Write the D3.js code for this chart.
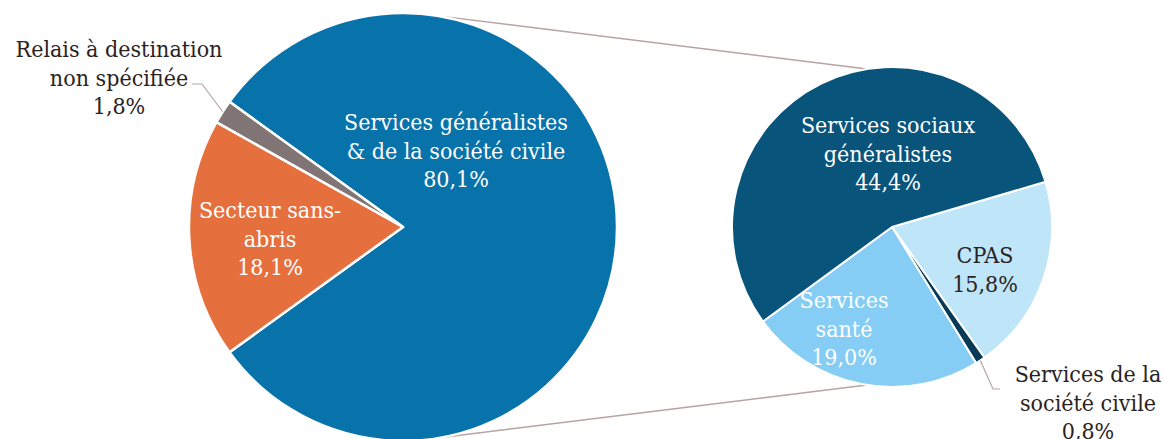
<!DOCTYPE html>
<html lang="fr">
<head>
<meta charset="utf-8">
<script src="https://cdn.jsdelivr.net/npm/d3@7"></script>
<style>
  html, body { margin: 0; padding: 0; background: #fff; }
  svg { display: block; }
</style>
</head>
<body>
<svg id="chart" width="1164" height="439"></svg>
<script>
// Répartition des relais (pie of pie)
const mainNames  = ["Services généralistes & de la société civile", "Secteur sans-abris", "Relais à destination non spécifiée"];
const mainLines  = [["Services généralistes", "& de la société civile"], ["Secteur sans-", "abris"], ["Relais à destination", "non spécifiée"]];
const mainValues = [80.1, 18.1, 1.8];
const mainColors = ["#0872AA", "#E5703E", "#807574"];

const subNames  = ["CPAS", "Services de la société civile", "Services santé", "Services sociaux généralistes"];
const subLines  = [["CPAS"], ["Services de la", "société civile"], ["Services", "santé"], ["Services sociaux", "généralistes"]];
const subValues = [15.8, 0.8, 19.0, 44.4];
const subColors = ["#BFE5F8", "#063A57", "#85CDF4", "#08547B"];

const fmt = v => d3.format(".1f")(v).replace(".", ",") + "%";
const FONT = "'DejaVu Serif Condensed', 'DejaVu Serif', serif";

const svg = d3.select("#chart");
const deg = Math.PI / 180;

// ---- layout ----
const left  = { cx: 403, cy: 227, r: 214 };
const right = { cx: 892, cy: 227, r: 160 };
const lineH = 28.5;

// label anchors (centre x, first baseline y) relative to each pie centre
const mainLabelPos = [
  { dx: 53,   dy: -97, fill: "#fff" },
  { dx: -133, dy: -9,  fill: "#fff" },
  { dx: -284, dy: -170, fill: "#2B2321" }
];
const subLabelPos = [
  { dx: 93,  dy: 36,  fill: "#2B2321" },
  { dx: 196, dy: 155, fill: "#2B2321" },
  { dx: -48, dy: 81,  fill: "#fff" },
  { dx: -4,  dy: -94, fill: "#fff" }
];

// ---- main pie: the expanded slice faces the secondary pie ----
const mainSpan = mainValues[0] / d3.sum(mainValues) * 2 * Math.PI;
const mainPie = d3.pie().sort(null)
  .startAngle(Math.PI / 2 - mainSpan / 2)
  .endAngle(Math.PI / 2 - mainSpan / 2 + 2 * Math.PI);
const mainArcs = mainPie(mainValues);
const mainArc = d3.arc().innerRadius(0).outerRadius(left.r);

// ---- secondary pie ----
const subStart = 73.6 * deg;
const subPie = d3.pie().sort(null).startAngle(subStart).endAngle(subStart + 2 * Math.PI);
const subArcs = subPie(subValues);
const subArc = d3.arc().innerRadius(0).outerRadius(right.r);

const polar = (c, a, r) => [c.cx + r * Math.sin(a), c.cy - r * Math.cos(a)];

// connector lines between the two pies
const connColor = "#B8A3A3";
const connectors = [
  [polar(left, 9.4 * deg, left.r),   polar(right, -9 * deg, right.r)],
  [polar(left, 169.5 * deg, left.r), polar(right, 189 * deg, right.r)]
];
svg.append("g").selectAll("line").data(connectors).join("line")
  .attr("x1", d => d[0][0]).attr("y1", d => d[0][1])
  .attr("x2", d => d[1][0]).attr("y2", d => d[1][1])
  .attr("stroke", connColor).attr("stroke-width", 1.5);

svg.append("g").attr("transform", `translate(${left.cx},${left.cy})`)
  .selectAll("path").data(mainArcs).join("path")
  .attr("d", mainArc)
  .attr("fill", (d, i) => mainColors[i])
  .attr("stroke", "#fff").attr("stroke-width", 2.5).attr("stroke-linejoin", "round");

svg.append("g").attr("transform", `translate(${right.cx},${right.cy})`)
  .selectAll("path").data(subArcs).join("path")
  .attr("d", subArc)
  .attr("fill", (d, i) => subColors[i])
  .attr("stroke", "#fff").attr("stroke-width", 2).attr("stroke-linejoin", "round");

// leader lines for the thin slices
const grayMid = (mainArcs[2].startAngle + mainArcs[2].endAngle) / 2;
const gp = polar(left, grayMid, left.r);
const civMid = (subArcs[1].startAngle + subArcs[1].endAngle) / 2;
const cp = polar(right, civMid, right.r);
const leaders = [
  [gp, [202, 84], [192, 84]],
  [cp, [993, 389], [1000, 389]]
];
svg.append("g").selectAll("path").data(leaders).join("path")
  .attr("d", d => d3.line()(d))
  .attr("fill", "none").attr("stroke", connColor).attr("stroke-width", 1.2);

// labels
function drawLabel(c, pos, lines, value) {
  const t = svg.append("text")
    .attr("text-anchor", "middle")
    .attr("font-family", FONT)
    .attr("font-size", 23)
    .attr("fill", pos.fill);
  lines.concat([fmt(value)]).forEach((s, k) => {
    t.append("tspan")
      .attr("x", c.cx + pos.dx)
      .attr("y", c.cy + pos.dy + k * lineH)
      .text(s);
  });
}
mainValues.forEach((v, i) => drawLabel(left, mainLabelPos[i], mainLines[i], v));
subValues.forEach((v, i) => drawLabel(right, subLabelPos[i], subLines[i], v));
</script>
</body>
</html>
